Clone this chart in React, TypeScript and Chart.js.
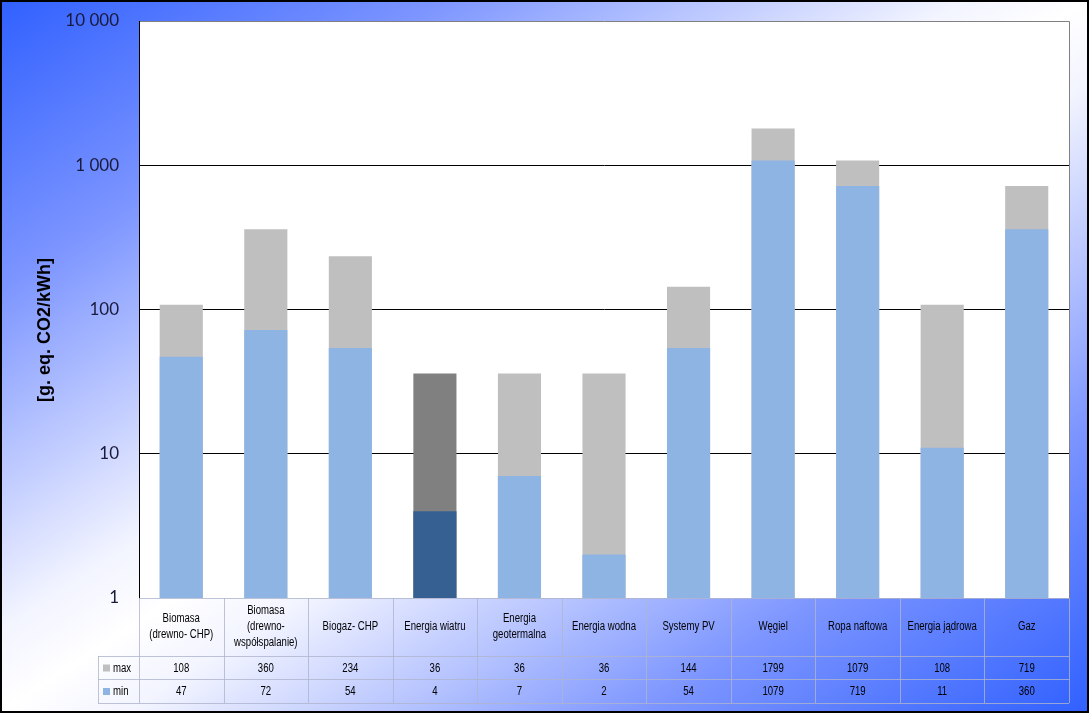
import React, { useEffect, useRef } from "react";
import { Chart, registerables } from "chart.js";

Chart.register(...registerables);

const categories: string[][] = [
  ["Biomasa", "(drewno- CHP)"],
  ["Biomasa", "(drewno-", "współspalanie)"],
  ["Biogaz- CHP"],
  ["Energia wiatru"],
  ["Energia", "geotermalna"],
  ["Energia wodna"],
  ["Systemy PV"],
  ["Węgiel"],
  ["Ropa naftowa"],
  ["Energia jądrowa"],
  ["Gaz"],
];
const maxValues = [108, 360, 234, 36, 36, 36, 144, 1799, 1079, 108, 719];
const minValues = [47, 72, 54, 4, 7, 2, 54, 1079, 719, 11, 360];
const seriesNames = ["max", "min"];
const yTicks = [1, 10, 100, 1000, 10000];
const yTitle = "[g. eq. CO2/kWh]";
const highlightIndex = 3;

const MAX_COLOR = "#BFBFBF";
const MIN_COLOR = "#8EB4E3";
const MAX_HL = "#808080";
const MIN_HL = "#376092";

const fmt = (v: number) => String(v).replace(/\B(?=(\d{3})+(?!\d))/g, " ");

const TABLE_FONT = "12px 'Liberation Sans', Arial, sans-serif";
const SQUEEZE = 0.8;

function narrowText(ctx: CanvasRenderingContext2D, text: string, x: number, y: number) {
  ctx.save();
  ctx.translate(x, y);
  ctx.scale(SQUEEZE, 1);
  ctx.fillText(text, 0, 0);
  ctx.restore();
}

export default function App() {
  const ref = useRef<HTMLCanvasElement | null>(null);
  useEffect(() => {
    document.body.style.margin = "0";
    const canvas = ref.current!;
    const bgPlugin = {
      id: "bg",
      beforeDraw(chart: any) {
        const { ctx, width, height, chartArea } = chart;
        ctx.save();
        const diag = Math.sqrt(width * width + height * height);
        const dx = height / diag;
        const dy = width / diag;
        const L = (width * height) / diag;
        const cx = width / 2;
        const cy = height / 2;
        const g = ctx.createLinearGradient(cx - dx * L, cy - dy * L, cx + dx * L, cy + dy * L);
        g.addColorStop(0, "#3060ff");
        g.addColorStop(0.2, "#7b94ff");
        g.addColorStop(0.44, "#f2f4ff");
        g.addColorStop(0.5, "#ffffff");
        g.addColorStop(0.56, "#f2f4ff");
        g.addColorStop(0.8, "#7b94ff");
        g.addColorStop(1, "#3060ff");
        ctx.fillStyle = g;
        ctx.fillRect(0, 0, width, height);
        ctx.fillStyle = "#ffffff";
        ctx.fillRect(chartArea.left, chartArea.top, chartArea.right - chartArea.left, chartArea.bottom - chartArea.top);
        ctx.strokeStyle = "#808080";
        ctx.lineWidth = 1;
        ctx.beginPath();
        ctx.moveTo(chartArea.left, chartArea.top + 0.5);
        ctx.lineTo(chartArea.right + 0.5, chartArea.top + 0.5);
        ctx.lineTo(chartArea.right + 0.5, chartArea.bottom);
        ctx.stroke();
        ctx.restore();
      },
      afterDraw(chart: any) {
        const { ctx, width, height, chartArea } = chart;
        const x = chart.scales.x;
        ctx.save();
        ctx.translate(45, 330);
        ctx.rotate(-Math.PI / 2);
        ctx.font = "bold 18px 'Liberation Sans', Arial, sans-serif";
        ctx.fillStyle = "#000000";
        ctx.textAlign = "center";
        ctx.textBaseline = "middle";
        ctx.fillText(yTitle, 0, 0);
        ctx.restore();

        const n = categories.length;
        const step = (chartArea.right - chartArea.left) / n;
        const top = chartArea.bottom;
        const r1 = top + 58;
        const r2 = r1 + 23;
        const r3 = r2 + 24;
        const legendLeft = chartArea.left - 41;
        ctx.save();
        ctx.strokeStyle = "rgba(175,180,205,0.8)";
        ctx.lineWidth = 1;
        ctx.beginPath();
        for (let i = 0; i <= n; i++) {
          const px = Math.round(chartArea.left + i * step) + 0.5;
          ctx.moveTo(px, top);
          ctx.lineTo(px, r3);
        }
        ctx.moveTo(chartArea.left, top + 0.5);
        ctx.lineTo(chartArea.right, top + 0.5);
        [r1, r2, r3].forEach((yy) => {
          ctx.moveTo(legendLeft, yy + 0.5);
          ctx.lineTo(chartArea.right, yy + 0.5);
        });
        ctx.moveTo(legendLeft + 0.5, r1);
        ctx.lineTo(legendLeft + 0.5, r3);
        ctx.stroke();

        ctx.font = TABLE_FONT;
        ctx.fillStyle = "#000000";
        ctx.textAlign = "center";
        ctx.textBaseline = "middle";
        const rowMid = (top + r1) / 2;
        categories.forEach((lines, i) => {
          const cx = x.getPixelForValue(i);
          const lh = 16;
          const start = rowMid - ((lines.length - 1) * lh) / 2;
          lines.forEach((ln, j) => narrowText(ctx, ln, cx, start + j * lh));
          narrowText(ctx, String(maxValues[i]), cx, (r1 + r2) / 2 + 1);
          narrowText(ctx, String(minValues[i]), cx, (r2 + r3) / 2 + 1);
        });
        ctx.textAlign = "left";
        [MAX_COLOR, MIN_COLOR].forEach((c, k) => {
          const my = k === 0 ? (r1 + r2) / 2 : (r2 + r3) / 2;
          ctx.fillStyle = c;
          ctx.fillRect(legendLeft + 5, my - 3, 7, 7);
          ctx.fillStyle = "#000000";
          narrowText(ctx, seriesNames[k], legendLeft + 15, my + 1);
        });
        ctx.restore();

        ctx.save();
        ctx.strokeStyle = "#000000";
        ctx.lineWidth = 2;
        ctx.strokeRect(1, 1, width - 2, height - 2);
        ctx.restore();
      },
    };

    const chart = new Chart(canvas, {
      type: "bar",
      data: {
        labels: categories.map((c) => c.join(" ")),
        datasets: [
          {
            label: seriesNames[1],
            data: minValues,
            backgroundColor: minValues.map((_, i) => (i === highlightIndex ? MIN_HL : MIN_COLOR)),
            order: 0,
            grouped: false,
            categoryPercentage: 1,
            barPercentage: 0.51,
          },
          {
            label: seriesNames[0],
            data: maxValues,
            backgroundColor: maxValues.map((_, i) => (i === highlightIndex ? MAX_HL : MAX_COLOR)),
            order: 1,
            grouped: false,
            categoryPercentage: 1,
            barPercentage: 0.51,
          },
        ],
      },
      options: {
        responsive: false,
        animation: false,
        layout: { padding: { left: 0, top: 21, right: 20, bottom: 115 } },
        plugins: { legend: { display: false }, tooltip: { enabled: false } },
        scales: {
          x: { display: false },
          y: {
            type: "logarithmic",
            min: 1,
            max: 10000,
            afterFit: (s: any) => {
              s.width = 139;
              s.paddingTop = 0;
              s.paddingBottom = 0;
            },
            afterBuildTicks: (s: any) => {
              s.ticks = yTicks.map((v) => ({ value: v }));
            },
            border: { color: "#000000", width: 1 },
            grid: {
              drawTicks: false,
              color: (c: any) => (c.tick && c.tick.value > 1 && c.tick.value < 10000 ? "#000000" : "rgba(0,0,0,0)"),
            },
            ticks: {
              padding: 20,
              color: "#1a1a3a",
              font: { family: "Lato, 'DejaVu Sans', sans-serif", size: 17 },
              callback: (v: any) => fmt(Number(v)),
            },
          },
        },
      },
      plugins: [bgPlugin],
    } as any);
    return () => chart.destroy();
  }, []);
  return <canvas ref={ref} width={1089} height={713} style={{ display: "block" }} />;
}
